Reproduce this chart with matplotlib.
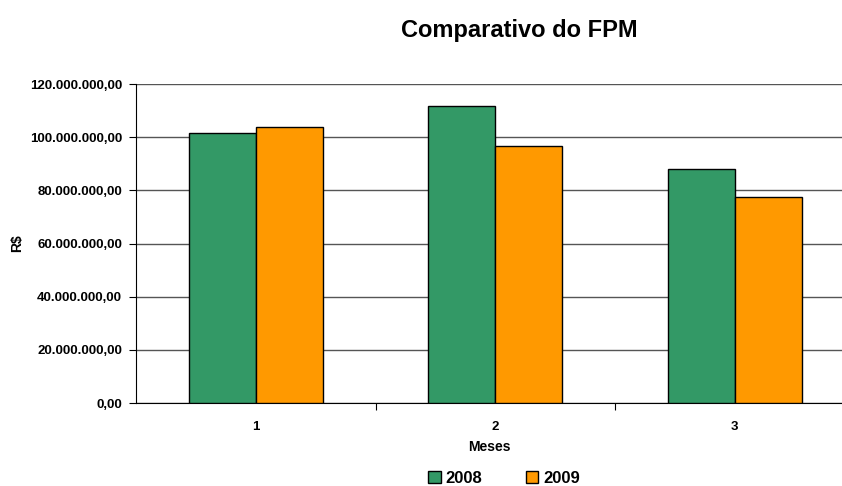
import numpy as np
import matplotlib
matplotlib.use("Agg")
from matplotlib import pyplot as plt
from matplotlib.ticker import FuncFormatter, FixedLocator

plt.rcParams['font.family'] = ['Liberation Sans', 'DejaVu Sans']

# data
meses = ["1", "2", "3"]
fpm_2008 = [101600000, 111600000, 88000000]
fpm_2009 = [104000000, 96500000, 77500000]
series_names = ["2008", "2009"]
colours = ["#339966", "#FF9900"]

W, H = 842, 486
fig = plt.figure(figsize=(W / 100, H / 100), dpi=100)
# plot area: left 136px, top 84px, bottom 403px, runs off the right edge
ax = fig.add_axes([136 / W, (H - 403) / H, (842 - 136) / W, (403 - 84) / H])

x = np.arange(len(meses))
bw = 0.28
ax.bar(x - bw / 2, fpm_2008, bw, color=colours[0], edgecolor="black", linewidth=1, label=series_names[0], zorder=3)
ax.bar(x + bw / 2, fpm_2009, bw, color=colours[1], edgecolor="black", linewidth=1, label=series_names[1], zorder=3)

ax.set_ylim(0, 120000000)
ax.set_yticks(np.arange(0, 120000001, 20000000))
ax.yaxis.set_major_formatter(FuncFormatter(lambda v, p: "{:,.2f}".format(v).replace(",", "X").replace(".", ",").replace("X", ".")))
ax.grid(axis="y", color="#555555", linewidth=1, zorder=0)

# xlim so the 3rd category is clipped at the image edge
ax.set_xlim(-0.5, -0.5 + 706 / 239.5)
ax.xaxis.set_major_locator(FixedLocator([0.5, 1.5]))
ax.set_xticklabels([])
ax.xaxis.set_minor_locator(FixedLocator(x))
ax.set_xticklabels(meses, minor=True)
ax.tick_params(axis="x", which="major", length=5, direction="out", color="black")
ax.tick_params(axis="x", which="minor", length=0, pad=13)
ax.tick_params(axis="y", length=5, direction="out", pad=5)

for lab in ax.get_yticklabels() + ax.get_xticklabels(minor=True):
    lab.set_fontweight("bold")
    lab.set_fontsize(9.5)

for s in ["top", "right"]:
    ax.spines[s].set_visible(False)
ax.spines["left"].set_color("black")
ax.spines["bottom"].set_color("black")

ax.set_ylabel("R$", fontsize=10, fontweight="bold", va="center")
ax.yaxis.set_label_coords((17 - 136) / 706, 0.5)
ax.set_xlabel("Meses", fontsize=10, fontweight="bold", va="center")
ax.xaxis.set_label_coords(0.5, -(447 - 403) / 319)

fig.text(519 / W, 1 - 30 / H, "Comparativo do FPM", ha="center", va="center", fontsize=17, fontweight="bold")

leg = fig.legend(loc="center", bbox_to_anchor=(504 / W, 1 - 478 / H), ncol=2, frameon=False,
                 prop={"weight": "bold", "size": 12}, handlelength=0.75, handleheight=0.75,
                 columnspacing=2.6, handletextpad=0.3)

fig.savefig("out.png", dpi=100)
